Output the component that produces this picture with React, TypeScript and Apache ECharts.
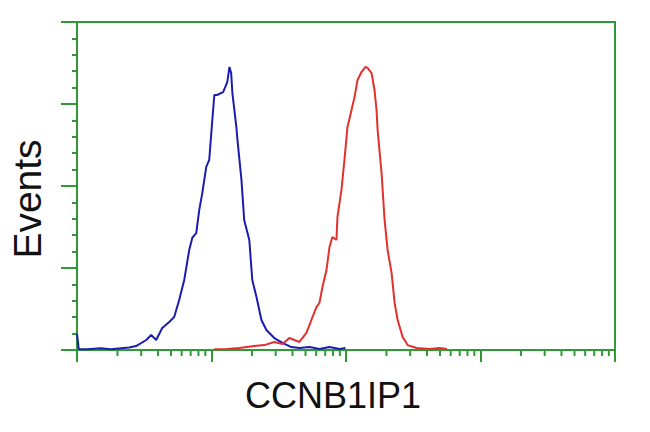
import React, { useEffect, useRef } from "react";
import * as echarts from "echarts";

const xTitle = "CCNB1IP1";
const yTitle = "Events";

// control (blue) histogram: [fluorescence intensity, events]
const blueSeries: [number, number][] = [
  [1, 10], [1.03, 0.5], [1.2, 0.5], [1.5, 1], [1.8, 0.5], [2.1, 1], [2.44, 1.5],
  [2.75, 2.4], [3.27, 6.1], [3.56, 9.1], [3.88, 6.1], [4.3, 13.4], [4.85, 17.1],
  [5.28, 20.1], [5.75, 30.5], [6.27, 42.7], [6.83, 61], [7.19, 68.3], [7.7, 71.3],
  [8.11, 85.4], [8.54, 95.7], [9.14, 111.6], [9.62, 115.9], [10.1, 138.4],
  [10.5, 155.5], [11.0, 155.5], [12.2, 157.3], [13.1, 163.4], [13.6, 172.6],
  [14.0, 168.9], [14.3, 156.7], [15.3, 136], [15.6, 128], [16.7, 103.7],
  [17.5, 79.3], [19.1, 67.1], [20.1, 42.7], [21.6, 32.3], [23.5, 18.3],
  [25.6, 12.2], [29.3, 7.3], [33.7, 4.3], [39.3, 1.8], [45, 1.2], [53.5, 1.8],
  [63.5, 0.6], [75.4, 1.8], [89.5, 0.6], [99, 1.2],
];

// CCNB1IP1 stained (red) histogram
const redSeries: [number, number][] = [
  [10.5, 0.5], [13, 0.6], [16.1, 1.2], [20.8, 2.4], [24.7, 3], [29.3, 4.9],
  [33.7, 3.7], [37.9, 7.3], [45, 4.9], [50.8, 10.4], [55.3, 18.3], [60.3, 26.2],
  [63.5, 28.7], [66.8, 38.4], [71.6, 48.8], [75.4, 62.8], [79.3, 68.9],
  [84.9, 67.1], [86.4, 81.1], [92.5, 97.6], [97.4, 115.9], [102.6, 136],
  [109.9, 146.3], [115.7, 154.2], [121.8, 164.6], [130.4, 169.5], [139.6, 172.6],
  [144.5, 172], [154.8, 168.9], [163, 158.5], [168.7, 146.3], [171.8, 134.2],
  [183.8, 107.9], [193.6, 79.3], [203.8, 61], [218.2, 47], [229.8, 28.7],
  [242.2, 18.3], [263.7, 7.9], [287.2, 3], [335, 1.2], [419, 0.6], [497, 1.2],
  [561, 0.6],
];

// minor log ticks on the x axis (2..9 in each decade)
const xMinorTicks: number[] = [
  2, 3, 4, 5, 6, 7, 8, 9,
  20, 30, 40, 50, 60, 70, 80, 90,
  200, 300, 400, 500, 600, 700, 800, 900,
  2000, 3000, 4000, 5000, 6000, 7000, 8000, 9000,
];

const GREEN = "#2f9a36";

export default function App() {
  const ref = useRef<HTMLDivElement>(null);
  useEffect(() => {
    if (!ref.current) return;
    const chart = echarts.init(ref.current, null, { renderer: "svg" });
    chart.setOption({
      animation: false,
      backgroundColor: "#ffffff",
      grid: {
        left: 77,
        top: 22,
        right: 35,
        bottom: 82,
        show: true,
        borderColor: GREEN,
        borderWidth: 2,
        backgroundColor: "transparent",
      },
      xAxis: {
        type: "log",
        logBase: 10,
        min: 1,
        max: 10000,
        axisLine: { show: true, lineStyle: { color: GREEN, width: 2 } },
        axisTick: { show: true, inside: false, length: 12, lineStyle: { color: GREEN, width: 2 } },
        axisLabel: { show: false },
        splitLine: { show: false },
      },
      yAxis: {
        type: "value",
        min: 0,
        max: 200,
        interval: 50,
        axisLine: { show: true, lineStyle: { color: GREEN, width: 2 } },
        axisTick: { show: true, inside: false, length: 16, lineStyle: { color: GREEN, width: 2 } },
        minorTick: { show: true, splitNumber: 5, length: 5, lineStyle: { color: GREEN, width: 2 } },
        axisLabel: { show: false },
        splitLine: { show: false },
      },
      graphic: [
        {
          type: "text",
          x: 27,
          y: 199,
          rotation: Math.PI / 2,
          style: {
            text: yTitle,
            font: "39px 'Liberation Sans', Arial, sans-serif",
            fill: "#111111",
            align: "center",
            verticalAlign: "middle",
          },
        },
        {
          type: "text",
          x: 333,
          y: 395,
          style: {
            text: xTitle,
            font: "36px 'Liberation Sans', Arial, sans-serif",
            fill: "#111111",
            align: "center",
            verticalAlign: "middle",
          },
        },
      ],
      series: [
        {
          type: "custom",
          clip: false,
          silent: true,
          z: 3,
          data: xMinorTicks.map((v) => [v, 0]),
          renderItem: (params: any, api: any) => {
            const p = api.coord([api.value(0), 0]);
            return {
              type: "line",
              shape: { x1: p[0], y1: p[1], x2: p[0], y2: p[1] + 6 },
              style: { stroke: GREEN, lineWidth: 2 },
            };
          },
        },
        {
          type: "line",
          data: blueSeries,
          showSymbol: false,
          symbol: "none",
          lineStyle: { color: "#1c1cb0", width: 2 },
          z: 4,
        },
        {
          type: "line",
          data: redSeries,
          showSymbol: false,
          symbol: "none",
          lineStyle: { color: "#e3302c", width: 2 },
          z: 4,
        },
      ],
    });
    return () => chart.dispose();
  }, []);
  return <div ref={ref} style={{ width: 650, height: 432, margin: -8 }} />;
}
